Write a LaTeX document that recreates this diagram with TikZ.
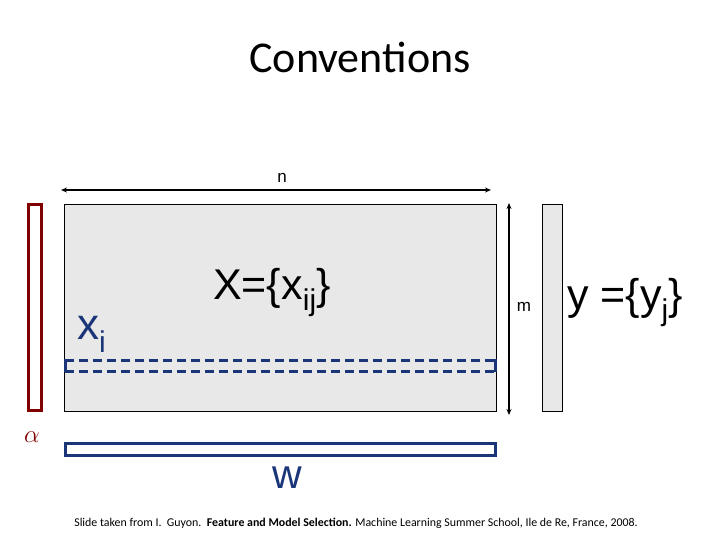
\documentclass[tikz,border=0pt]{standalone}
\usepackage{fontspec}
\setmainfont{Carlito}
\newfontfamily\arialf{Liberation Sans}
\usetikzlibrary{arrows.meta}
\definecolor{mgray}{RGB}{232,232,232}
\definecolor{dred}{RGB}{128,0,0}
\definecolor{dblue}{RGB}{26,54,120}
\tikzset{
  box/.style={draw=black,line width=0.9pt,fill=mgray},
  dimarrow/.style={line width=1.6pt,{Stealth[length=6pt,width=5pt]}-{Stealth[length=6pt,width=5pt]}},
  lbl/.style={inner sep=0pt},
  bluerow/.style={draw=dblue,line width=3pt,dash pattern=on 9pt off 5pt},
}
\newcommand{\fs}[1]{\fontsize{#1}{#1}\selectfont}
\newcommand{\mysub}[1]{\raisebox{-11pt}{\fs{30}#1}}
\begin{document}
\begin{tikzpicture}[x=1pt,y=-1pt]
\useasboundingbox (0,0) rectangle (720,540);
% title
\node[lbl,anchor=base] (title) at (360,73) {\fs{44}Conventions};
% main matrix
\draw[box] (64,204) rectangle (496,411);
% y vector
\draw[box] (542,204) rectangle (562,411);
% alpha vector
\draw[draw=dred,line width=3pt] (28.5,205) rectangle (41,410);
% w vector
\draw[draw=dblue,line width=3pt] (65.5,443) rectangle (495,455);
% dashed row
\draw[bluerow] (65,360) -- (495,360);
\draw[bluerow] (65,371) -- (495,371);
\draw[draw=dblue,line width=3pt] (65,359) -- (65,372);
\draw[draw=dblue,line width=3pt] (495,359) -- (495,372);
% dimension arrows
\coordinate (na) at (61,190);
\coordinate (nb) at (491,190);
\draw[dimarrow] (na) -- (nb);
\coordinate (ma) at (509,203);
\coordinate (mb) at (509,415);
\draw[dimarrow] (ma) -- (mb);
% labels
\node[lbl,anchor=base] (n) at (282,183) {\arialf\fs{17}n};
\node[lbl,anchor=base] (m) at (524,311) {\arialf\fs{17}m};
\node[lbl,anchor=base west] (X) at (213,299) {\arialf\fs{43}X=\{x\mysub{ij}\}};
\node[lbl,anchor=base west] (y) at (567,309) {\arialf\fs{43}y =\{y\mysub{j}\}};
\node[lbl,anchor=base west,text=dblue] (xi) at (77,339) {\arialf\fs{44}x\raisebox{-13pt}{\fs{30}i}};
\node[lbl,text=dred] (alpha) at (32,437) {\fs{34}$\alpha$};
\node[lbl,anchor=base,text=dblue] (w) at (287,488) {\arialf\fs{41}w};
\node[lbl] (foot) at (356,523) {\fs{11.9}Slide taken from I.\ \ Guyon.\ \ \textbf{Feature and Model Selection.} Machine Learning Summer School, Ile de Re, France, 2008.};
\end{tikzpicture}
\end{document}
